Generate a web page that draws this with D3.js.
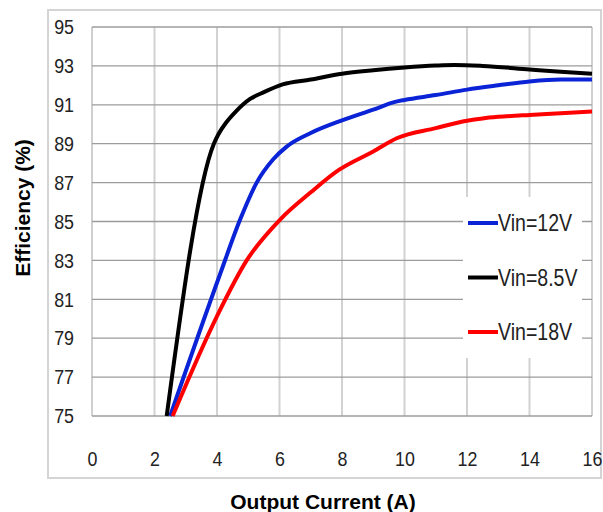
<!DOCTYPE html>
<html>
<head>
    <meta charset="utf-8">
    <script src="https://cdn.jsdelivr.net/npm/d3@7/dist/d3.min.js"></script>
    <title></title>
    <style>
        * {
            margin: 0;
            padding: 0;
        }

        body {
            background: white;
        }

        #chart {
            display: block;
        }

        .tick-label {
            font-family: "Liberation Sans", Arial, sans-serif;
            font-size: 21px;
            fill: #222;
        }

        .axis-title {
            font-family: "Liberation Sans", Arial, sans-serif;
            font-size: 21px;
            font-weight: bold;
            fill: #000;
        }

        .legend-label {
            font-family: "Liberation Sans", Arial, sans-serif;
            font-size: 23px;
            fill: #222;
        }
    </style>
</head>
<body>

    <svg id="chart" width="603" height="512"></svg>

    <script>
        // tick values
        var xTicks = [0, 2, 4, 6, 8, 10, 12, 14, 16];
        var yTicks = [75, 77, 79, 81, 83, 85, 87, 89, 91, 93, 95];

        // series: [output current A, efficiency %]
        var vin12 = [[2.5, 75], [4.1, 82.3], [4.74, 85.1], [5.27, 87.0], [5.8, 88.2], [6.23, 88.85],
            [7, 89.55], [8, 90.2], [9, 90.75], [9.7, 91.15], [10, 91.25], [11, 91.5], [12, 91.78],
            [13, 92.0], [14, 92.2], [15, 92.3], [16, 92.3]];
        var vin85 = [[2.39, 75], [3.9, 89], [4.05, 89.5], [4.3, 90.1], [4.6, 90.65], [5.06, 91.3],
            [5.5, 91.65], [6.1, 92.05], [7, 92.3], [8, 92.6], [9, 92.78], [10, 92.92], [11, 93.02],
            [11.6, 93.05], [12.5, 93.0], [14, 92.82], [15, 92.7], [16, 92.6]];
        var vin18 = [[2.58, 75], [3.99, 80.1], [4.95, 83.0], [6.02, 85.1], [7, 86.5], [7.9, 87.65],
            [9, 88.6], [9.75, 89.28], [11, 89.8], [12, 90.18], [12.5, 90.3], [13, 90.38], [14, 90.48],
            [15, 90.56], [16, 90.65]];

        var seriesNames = ["Vin=12V", "Vin=8.5V", "Vin=18V"];
        var seriesColors = ["#0a23d6", "#000000", "#ff0000"];
        var seriesData = [vin12, vin85, vin18];

        // narrow look of the original font
        var squeeze = 0.85;

        var chart = {};
        chart.margin = { top: 27, right: 11, bottom: 96, left: 92 };
        chart.width = 603 - chart.margin.left - chart.margin.right;
        chart.height = 512 - chart.margin.top - chart.margin.bottom;

        var svg = d3.select("#chart");

        // outer frame
        svg.append("rect")
            .attr("x", 48)
            .attr("y", 10)
            .attr("width", 553)
            .attr("height", 468)
            .attr("fill", "white")
            .attr("stroke", "#d4d4d4")
            .attr("stroke-width", 2);

        chart.g = svg.append("g")
            .attr("transform", "translate(" + chart.margin.left + "," + chart.margin.top + ")");

        chart.x = d3.scaleLinear().domain([0, 16]).range([0, chart.width]);
        chart.y = d3.scaleLinear().domain([75, 95]).range([chart.height, 0]);

        // vertical grid (light)
        chart.g.append("g")
            .selectAll("line")
            .data(xTicks)
            .enter()
            .append("line")
            .attr("x1", function (d) { return chart.x(d) })
            .attr("x2", function (d) { return chart.x(d) })
            .attr("y1", 0)
            .attr("y2", chart.height)
            .attr("stroke", function (d) { return d == 0 ? "#a0a0a0" : "#d2d2d2" })
            .attr("stroke-width", function (d) { return d == 0 ? 1 : 2 });

        // horizontal grid (darker)
        chart.g.append("g")
            .selectAll("line")
            .data(yTicks)
            .enter()
            .append("line")
            .attr("x1", 0)
            .attr("x2", chart.width)
            .attr("y1", function (d) { return chart.y(d) })
            .attr("y2", function (d) { return chart.y(d) })
            .attr("stroke", "#9c9c9c")
            .attr("stroke-width", 1.3);

        // axes (labels only)
        var xAxis = chart.g.append("g")
            .attr("transform", "translate(0," + chart.height + ")")
            .call(d3.axisBottom(chart.x).tickValues(xTicks).tickSize(0).tickPadding(35));
        xAxis.select(".domain").remove();
        xAxis.selectAll("text")
            .attr("class", "tick-label")
            .attr("font-family", null).attr("font-size", null)
            .attr("transform", "scale(" + squeeze + ",1)");

        var yAxis = chart.g.append("g")
            .call(d3.axisLeft(chart.y).tickValues(yTicks).tickSize(0));
        yAxis.select(".domain").remove();
        yAxis.selectAll("text")
            .attr("class", "tick-label")
            .attr("font-family", null).attr("font-size", null)
            .attr("x", -18 / squeeze)
            .attr("transform", "scale(" + squeeze + ",1)");

        // curves
        chart.line = d3.line()
            .x(function (d) { return chart.x(d[0]) })
            .y(function (d) { return chart.y(d[1]) })
            .curve(d3.curveMonotoneX);

        chart.g.selectAll("path.series")
            .data(seriesData)
            .enter()
            .append("path")
            .attr("class", "series")
            .attr("d", function (d) { return chart.line(d) })
            .attr("fill", "none")
            .attr("stroke", function (d, i) { return seriesColors[i] })
            .attr("stroke-width", 4)
            .attr("stroke-linejoin", "round");

        // legend
        var legend = svg.append("g").attr("transform", "translate(463,197)");
        legend.append("rect")
            .attr("width", 119)
            .attr("height", 161)
            .attr("fill", "white");

        var legendItem = legend.selectAll("g.item")
            .data(seriesNames)
            .enter()
            .append("g")
            .attr("class", "item")
            .attr("transform", function (d, i) { return "translate(0," + (26 + i * 54.5) + ")" });

        legendItem.append("line")
            .attr("x1", 5)
            .attr("x2", 35)
            .attr("stroke", function (d, i) { return seriesColors[i] })
            .attr("stroke-width", 4);

        legendItem.append("text")
            .attr("class", "legend-label")
            .attr("transform", "translate(35,8) scale(" + squeeze + ",1)")
            .text(function (d) { return d });

        // axis titles
        svg.append("text")
            .attr("class", "axis-title")
            .attr("x", 323)
            .attr("y", 509)
            .attr("text-anchor", "middle")
            .text("Output Current (A)");

        svg.append("text")
            .attr("class", "axis-title")
            .attr("transform", "translate(30,208) rotate(-90)")
            .attr("text-anchor", "middle")
            .text("Efficiency (%)");
    </script>
</body>
</html>
